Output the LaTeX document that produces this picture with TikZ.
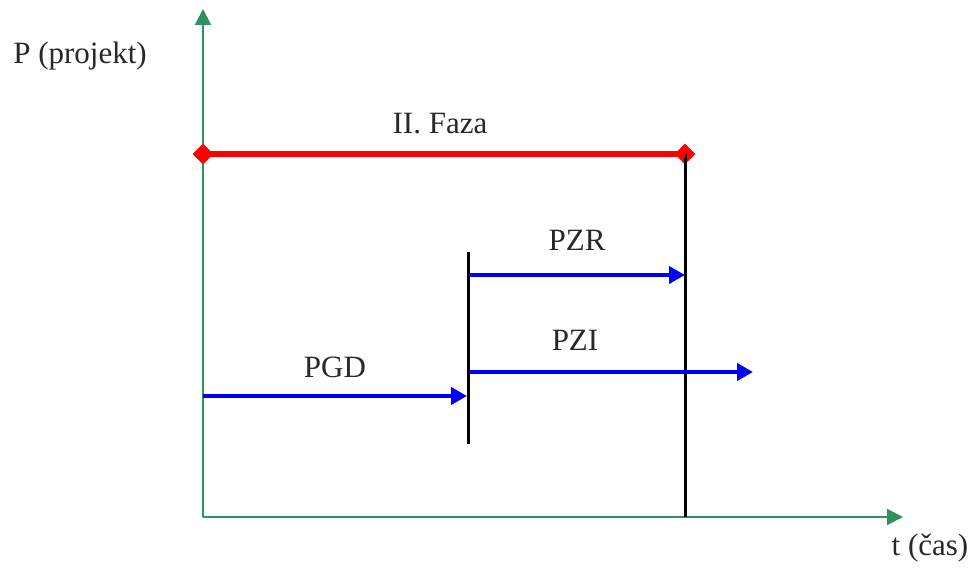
\documentclass[tikz,border=0pt]{standalone}
\usepackage{fontspec}
\setmainfont{Liberation Serif}
\usetikzlibrary{arrows.meta,shapes.geometric}
\definecolor{axisgreen}{RGB}{46,145,95}
\definecolor{txt}{RGB}{40,40,40}
\begin{document}
\begin{tikzpicture}[x=1pt,y=-1pt,
  lbl/.style={text=txt,font=\fontsize{31}{35}\selectfont,inner sep=0pt},
  axis/.style={draw=axisgreen,line width=2pt,-{Triangle[length=16pt,width=16pt]}},
  bar/.style={draw=black,line width=3pt},
  flow/.style={draw=blue,line width=4.5pt,-{Triangle[length=16pt,width=17pt]}},
  phase/.style={draw=red,line width=6pt},
  dia/.style={diamond,fill=red,inner sep=0pt,minimum size=21pt}]
\useasboundingbox (0,0) rectangle (980,569);
% axes
\coordinate (O) at (203,517);
\coordinate (Ytop) at (203,9);
\coordinate (Xend) at (903,517);
\draw[axis] (O) -- (Ytop);
\draw[axis] (O) -- (Xend);
% phase line
\node[dia] (d1) at (203,154) {};
\node[dia] (d2) at (685,154) {};
\coordinate (BRtop) at (685,154);
\coordinate (BRbot) at (685,517);
\draw[bar] (BRtop) -- (BRbot);
\draw[phase] (d1.center) -- (d2.center);
% middle bar
\coordinate (BMtop) at (468,252);
\coordinate (BMbot) at (468,444);
\draw[bar] (BMtop) -- (BMbot);
% flows
\coordinate (PGDs) at (203,396);
\coordinate (PGDe) at (467,396);
\coordinate (PZRs) at (469,275);
\coordinate (PZRe) at (685,275);
\coordinate (PZIs) at (469,372);
\coordinate (PZIe) at (753,372);
\draw[flow] (PGDs) -- (PGDe);
\draw[flow] (PZRs) -- (PZRe);
\draw[flow] (PZIs) -- (PZIe);
% labels
\node[lbl] (ly) at (80,56) {P (projekt)};
\node[lbl] (lx) at (930,548) {t (čas)};
\node[lbl] (lf) at (440,124) {II. Faza};
\node[lbl] (lzr) at (577,240) {PZR};
\node[lbl] (lzi) at (575,340) {PZI};
\node[lbl] (lgd) at (335,367) {PGD};
\end{tikzpicture}
\end{document}
